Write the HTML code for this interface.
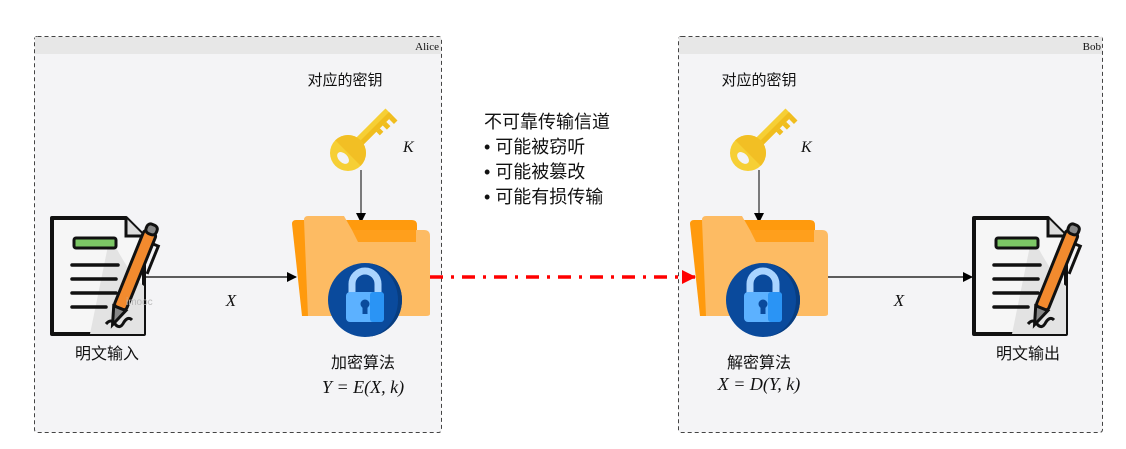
<!DOCTYPE html>
<html><head><meta charset="utf-8"><style>
html,body{margin:0;padding:0;background:#fff;}
svg{display:block}
.cn{font-family:"Liberation Sans","Noto Sans CJK SC",sans-serif;fill:#111}
.m{font-family:"Liberation Serif","DejaVu Serif",serif;font-style:italic;fill:#111}
.r{font-family:"Liberation Serif",serif;fill:#111}
</style></head><body>
<svg width="1126" height="449" viewBox="0 0 1126 449" xmlns="http://www.w3.org/2000/svg">
<defs>
<marker id="ah" markerWidth="10" markerHeight="10" refX="9" refY="5" orient="auto" markerUnits="userSpaceOnUse"><path d="M0,0 L10,5 L0,10 z" fill="#000"/></marker>
<marker id="rh" markerWidth="14" markerHeight="14" refX="13" refY="7" orient="auto" markerUnits="userSpaceOnUse"><path d="M0,0 L14,7 L0,14 z" fill="#f00"/></marker>
<g id="doc">
  <path d="M2,2 H76 L94,20 V118 H2 Z" fill="#f6f6f6" stroke="#111" stroke-width="4" stroke-linejoin="round"/>
  <path d="M60,20 Q80,60 94,70 V118 H40 Z" fill="#e3e3e3"/>
  <path d="M76,2 V20 H94" fill="#ddd" stroke="#111" stroke-width="3"/>
  <rect x="24" y="22" width="42" height="10" rx="2" fill="#7cc765" stroke="#111" stroke-width="3"/>
  <g stroke="#111" stroke-width="3.5" stroke-linecap="round">
    <line x1="22" y1="49" x2="68" y2="49"/><line x1="22" y1="63" x2="66" y2="63"/>
    <line x1="22" y1="77" x2="66" y2="77"/><line x1="22" y1="91" x2="56" y2="91"/>
  </g>
  <path d="M56,108 q5,-6 9,0 q5,6 9,-2 q4,-6 8,-2" fill="none" stroke="#111" stroke-width="3"/>
  <g transform="translate(100,16) rotate(22)">
    <rect x="-6" y="0" width="13" height="82" rx="3" fill="#f28a2e" stroke="#111" stroke-width="3"/>
    <rect x="-5" y="-8" width="11" height="10" rx="4" fill="#888" stroke="#111" stroke-width="3"/>
    <path d="M-6,82 L0,100 L7,82 Z" fill="#888" stroke="#111" stroke-width="3"/>
    <path d="M7,10 h6 v30" fill="none" stroke="#111" stroke-width="3"/>
  </g>
</g>
<g id="folder">
  <path d="M0,8 Q0,4 4,4 H120 Q125,4 125,9 V100 H10 Z" fill="#ff9a0d"/>
  <path d="M12,4 Q12,0 16,0 H52 L60,14 H132 Q138,14 138,20 V98 Q138,100 134,100 H16 Z" fill="#fdbb63"/>
  <path d="M60,14 L66,26 H124 V14 Z" fill="#ff9f1c"/>
  <circle cx="73" cy="84" r="37" fill="#0a4a9c"/>
  <path d="M73,47 A37,37 0 0 1 73,121 A33,37 0 0 0 73,47 Z" fill="#083d80"/>
  <path d="M60,78 V68 A13,13 0 0 1 86,68 V78" fill="none" stroke="#a9d4ff" stroke-width="7"/>
  <rect x="54" y="76" width="38" height="30" rx="4" fill="#5cb1ff"/>
  <rect x="78" y="76" width="14" height="30" rx="3" fill="#2a94f5"/>
  <circle cx="73" cy="88" r="4.5" fill="#0a4a9c"/><rect x="70.5" y="88" width="5" height="10" fill="#0a4a9c"/>
</g>
<g id="key">
  <g transform="translate(17,40) rotate(-45)">
    <rect x="8" y="-5" width="50" height="10" fill="#f6cf35"/>
    <rect x="8" y="0" width="50" height="5" fill="#f0bd1e"/>
    <path d="M30,5 h5 v5 h5 v-5 h4 v6 h5 v-6 h4 v7 h5 v-7 Z" fill="#f0bd1e"/>
    <circle cx="0" cy="0" r="18" fill="#f6cf35"/>
    <path d="M0,-18 A18,18 0 0 1 0,18 Z" fill="#f2bf24"/>
    <ellipse cx="-7" cy="0" rx="4.5" ry="7" fill="#f3f3f6"/>
  </g>
</g>
</defs>

<!-- Alice -->
<rect x="34.5" y="36.5" width="407" height="396" rx="3" fill="#f4f4f6" stroke="#444" stroke-dasharray="4,3"/>
<rect x="35" y="37" width="406" height="17" fill="#e7e7e7"/>
<text x="439" y="50" text-anchor="end" class="r" font-size="11">Alice</text>
<!-- Bob -->
<rect x="678.5" y="36.5" width="424" height="396" rx="3" fill="#f4f4f6" stroke="#444" stroke-dasharray="4,3"/>
<rect x="679" y="37" width="423" height="17" fill="#e7e7e7"/>
<text x="1101" y="50" text-anchor="end" class="r" font-size="11">Bob</text>

<!-- Alice content -->
<text x="345" y="85" text-anchor="middle" class="cn" font-size="15">对应的密钥</text>
<use href="#key" x="331" y="113"/>
<text x="403" y="152" class="m" font-size="16">K</text>
<line x1="361" y1="170" x2="361" y2="222" stroke="#000" stroke-width="1" marker-end="url(#ah)"/>
<use href="#doc" x="50" y="216"/>
<text x="126" y="305" font-family="Liberation Sans,sans-serif" font-size="10" fill="#bbb">imooc</text>
<line x1="146" y1="277" x2="296" y2="277" stroke="#000" stroke-width="1.2" marker-end="url(#ah)"/>
<text x="231" y="306" text-anchor="middle" class="m" font-size="17">X</text>
<use href="#folder" x="292" y="216"/>
<text x="75" y="359" class="cn" font-size="16">明文输入</text>
<text x="363" y="368" text-anchor="middle" class="cn" font-size="16">加密算法</text>
<text x="363" y="393" text-anchor="middle" class="m" font-size="18">Y = E(X, k)</text>

<!-- channel -->
<line x1="430" y1="277" x2="695" y2="277" stroke="#f00" stroke-width="3.5" stroke-dasharray="13,8,3,8" marker-end="url(#rh)"/>
<text x="484" y="128" class="cn" font-size="18">不可靠传输信道</text>
<text x="484" y="153" class="cn" font-size="18">• 可能被窃听</text>
<text x="484" y="178" class="cn" font-size="18">• 可能被篡改</text>
<text x="484" y="203" class="cn" font-size="18">• 可能有损传输</text>

<!-- Bob content -->
<text x="759" y="85" text-anchor="middle" class="cn" font-size="15">对应的密钥</text>
<use href="#key" x="731" y="113"/>
<text x="801" y="152" class="m" font-size="16">K</text>
<line x1="759" y1="170" x2="759" y2="222" stroke="#000" stroke-width="1" marker-end="url(#ah)"/>
<use href="#folder" x="690" y="216"/>
<line x1="828" y1="277" x2="972" y2="277" stroke="#000" stroke-width="1.2" marker-end="url(#ah)"/>
<text x="899" y="306" text-anchor="middle" class="m" font-size="17">X</text>
<use href="#doc" x="972" y="216"/>
<text x="1028" y="359" text-anchor="middle" class="cn" font-size="16">明文输出</text>
<text x="759" y="368" text-anchor="middle" class="cn" font-size="16">解密算法</text>
<text x="759" y="390" text-anchor="middle" class="m" font-size="18">X = D(Y, k)</text>
</svg>
</body></html>
